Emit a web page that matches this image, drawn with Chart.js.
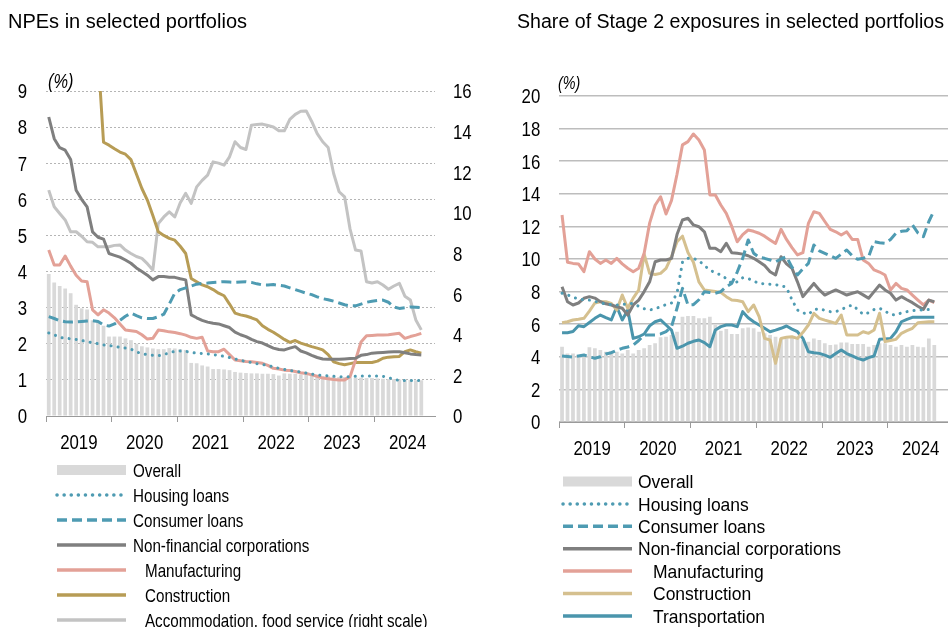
<!DOCTYPE html>
<html>
<head>
<meta charset="utf-8">
<script src="https://cdn.jsdelivr.net/npm/chart.js@4.4.1/dist/chart.umd.min.js"></script>
<style>
  body { margin: 0; background: #fff; }
  #wrap { position: relative; width: 948px; height: 627px; }
  canvas { position: absolute; top: 0; }
  #left { left: 0; }
  #right { left: 474px; }
</style>
</head>
<body>
<div id="wrap">
  <canvas id="left" width="474" height="627"></canvas>
  <canvas id="right" width="474" height="627"></canvas>
</div>
<script>
// years on the axis, monthly data from Jan 2019, axis runs to Nov 2024
const years = ['2019', '2020', '2021', '2022', '2023', '2024'];
const lastMonth = '2024-11';

// NPE ratios (%), Jan 2019 - Sep 2024
const npeOverall = [3.93,3.70,3.60,3.53,3.40,3.08,2.98,2.95,2.65,2.62,2.50,2.20,
  2.20,2.20,2.15,2.10,2.00,1.93,1.90,1.87,1.85,1.85,1.88,1.87,
  1.85,1.83,1.47,1.46,1.40,1.37,1.30,1.30,1.29,1.27,1.22,1.20,
  1.19,1.18,1.18,1.17,1.17,1.16,1.12,1.18,1.17,1.17,1.15,1.14,
  1.12,1.11,1.10,1.10,1.09,1.08,1.08,1.07,1.06,1.06,1.05,1.05,
  1.04,1.03,1.02,1.02,1.01,1.00,1.00,0.99,0.99];
const npeHousing = [2.30,2.25,2.18,2.15,2.14,2.12,2.09,2.06,2.03,2.00,1.97,1.95,
  1.93,1.90,1.88,1.85,1.78,1.72,1.70,1.68,1.67,1.70,1.75,1.79,
  1.80,1.79,1.76,1.74,1.73,1.72,1.70,1.68,1.65,1.62,1.58,1.54,
  1.51,1.48,1.45,1.43,1.40,1.36,1.32,1.29,1.26,1.24,1.22,1.19,
  1.16,1.14,1.12,1.11,1.10,1.09,1.09,1.09,1.10,1.11,1.11,1.11,
  1.11,1.10,1.06,1.02,0.98,0.98,0.98,0.98,0.98];
const npeConsumer = [2.75,2.70,2.64,2.61,2.60,2.61,2.62,2.63,2.64,2.62,2.52,2.49,
  2.55,2.65,2.76,2.85,2.78,2.72,2.70,2.70,2.75,2.82,3.10,3.40,
  3.50,3.55,3.60,3.65,3.67,3.68,3.70,3.71,3.72,3.71,3.70,3.71,
  3.72,3.70,3.66,3.63,3.63,3.64,3.62,3.60,3.55,3.50,3.45,3.40,
  3.36,3.30,3.25,3.22,3.18,3.13,3.08,3.05,3.05,3.10,3.15,3.18,
  3.20,3.21,3.15,3.02,2.98,3.00,3.02,3.01,3.00];
const npeNfc = [8.28,7.68,7.43,7.36,7.10,6.25,6.00,5.79,5.10,4.95,4.90,4.50,
  4.45,4.40,4.32,4.23,4.10,4.00,3.90,3.77,3.86,3.86,3.84,3.84,
  3.80,3.77,2.80,2.72,2.65,2.60,2.57,2.55,2.50,2.45,2.32,2.25,
  2.20,2.12,2.06,2.02,1.95,1.88,1.84,1.83,1.88,1.92,1.80,1.75,
  1.68,1.62,1.58,1.57,1.57,1.57,1.58,1.59,1.60,1.68,1.70,1.74,
  1.75,1.76,1.77,1.78,1.78,1.75,1.72,1.70,1.69];
const npeManufacturing = [4.60,4.18,4.18,4.43,4.15,3.90,3.74,3.72,2.94,2.80,2.94,2.85,
  2.72,2.55,2.38,2.36,2.34,2.25,2.13,2.15,2.38,2.36,2.33,2.31,
  2.28,2.24,2.18,2.15,2.18,1.80,1.78,1.78,1.85,1.70,1.55,1.53,
  1.51,1.50,1.48,1.46,1.40,1.32,1.30,1.27,1.26,1.23,1.20,1.18,
  1.14,1.10,1.05,1.03,1.01,1.00,1.00,1.09,1.55,2.05,2.22,2.23,
  2.24,2.24,2.25,2.27,2.29,2.15,2.20,2.24,2.29];
// construction is above the 9% top of the axis until late 2019
const npeConstruction = [null,null,null,null,null,null,null,null,null,10.0,7.58,7.50,
  7.40,7.31,7.25,7.10,6.70,6.30,5.98,5.55,5.10,5.00,4.92,4.87,
  4.70,4.50,3.81,3.72,3.63,3.58,3.50,3.40,3.33,3.10,2.85,2.80,
  2.77,2.72,2.66,2.50,2.40,2.32,2.22,2.12,2.04,2.09,2.02,1.97,
  1.92,1.88,1.83,1.70,1.50,1.45,1.42,1.45,1.48,1.48,1.48,1.48,
  1.52,1.60,1.63,1.64,1.65,1.78,1.83,1.78,1.74];
// right scale
const npeAccommodation = [11.12,10.30,9.97,9.65,9.07,9.07,8.85,8.58,8.55,8.33,8.33,8.33,
  8.40,8.42,8.17,8.00,7.85,7.76,7.50,7.19,9.48,9.80,10.05,9.80,
  10.50,10.96,10.47,11.28,11.60,11.86,12.51,12.45,12.35,12.76,13.50,13.22,
  13.12,14.32,14.35,14.37,14.30,14.23,14.04,14.04,14.60,14.85,15.00,15.02,
  14.50,13.90,13.50,13.22,11.94,11.04,10.79,9.20,8.17,8.12,6.61,6.55,
  6.61,6.45,6.24,6.40,6.53,5.90,5.71,4.73,4.24];

// Stage 2 shares (%)
const s2Overall = [4.62,4.21,4.21,4.11,4.15,4.58,4.52,4.42,4.31,4.35,4.31,4.21,
  4.42,4.21,4.42,4.52,4.72,4.83,5.20,5.23,5.34,5.54,6.46,6.50,
  6.50,6.36,6.36,6.46,5.95,5.60,5.70,5.40,5.40,5.75,5.80,5.75,
  5.54,5.44,5.34,5.23,5.13,5.13,5.20,5.20,5.03,4.93,5.13,5.03,
  4.83,4.72,4.75,4.87,4.87,4.79,4.79,4.79,4.62,4.72,4.83,4.83,
  4.72,4.62,4.72,4.62,4.72,4.62,4.58,5.13,4.72];
const s2Housing = [7.90,7.80,7.65,7.55,7.50,7.48,7.40,7.30,7.25,7.20,7.18,7.20,
  7.25,7.28,7.10,6.95,6.87,6.95,7.07,7.20,7.30,7.90,9.80,10.04,
  10.04,9.90,9.60,9.33,9.15,9.02,8.80,8.50,8.60,8.85,8.80,8.65,
  8.50,8.48,8.45,8.42,8.38,8.25,7.50,6.87,6.70,6.60,6.90,6.95,
  6.85,6.77,6.77,6.90,7.05,7.18,6.90,6.60,6.70,6.90,6.98,6.80,
  6.60,6.56,6.70,6.77,6.82,6.87,6.88,6.90,6.91];
const s2Consumer = [4.05,4.02,3.98,4.05,4.11,4.00,3.91,4.00,4.17,4.25,4.40,4.52,
  4.60,4.72,5.00,5.34,5.34,5.34,5.40,5.54,5.85,6.98,8.20,7.18,
  7.20,7.50,7.99,7.95,7.90,8.00,8.30,8.50,9.20,10.04,11.17,10.35,
  10.10,10.04,9.94,9.83,10.00,10.14,9.50,9.02,9.40,9.73,10.86,10.50,
  10.35,10.20,10.04,10.30,10.55,10.20,9.98,10.05,10.14,11.06,11.00,10.96,
  11.20,11.58,11.70,11.74,12.09,11.60,11.37,12.30,13.00];
const s2Nfc = [8.30,7.38,7.18,7.30,7.59,7.69,7.60,7.38,7.25,7.18,7.07,6.98,
  6.56,7.18,7.48,8.00,8.60,9.83,9.94,9.94,10.04,11.50,12.39,12.50,
  12.09,11.98,11.67,10.66,10.66,10.45,10.96,10.39,10.35,10.30,10.20,10.04,
  9.83,9.60,9.22,9.02,10.14,9.70,9.43,8.60,7.69,8.10,8.50,8.10,
  7.79,7.95,8.10,7.95,7.79,7.90,7.99,7.80,7.59,8.00,8.40,8.10,
  7.90,7.48,7.69,7.50,7.32,7.10,6.91,7.48,7.38];
const s2Manufacturing = [12.70,9.80,9.73,9.70,9.22,10.45,10.00,9.73,9.94,9.73,10.04,9.70,
  9.43,9.22,9.43,10.35,12.20,13.30,13.82,12.76,13.60,15.20,17.00,17.20,
  17.67,17.30,16.69,13.93,13.93,13.31,12.80,12.00,11.06,11.50,11.78,11.70,
  11.58,11.40,11.17,10.95,11.82,11.20,10.70,10.25,10.39,12.19,12.90,12.80,
  12.30,11.82,11.67,11.47,11.67,11.20,11.20,9.94,9.73,9.33,9.20,9.02,
  8.10,8.50,8.20,8.10,7.79,7.48,7.18,7.48,7.32];
const s2Construction = [6.09,6.15,6.26,6.30,6.36,6.80,7.30,7.38,7.38,7.28,6.87,7.79,
  6.98,7.60,8.10,10.30,9.12,9.05,9.12,9.43,10.14,11.06,11.40,10.40,
  9.80,8.60,8.10,8.05,8.00,7.95,7.69,7.48,7.45,7.38,6.77,7.18,
  6.46,5.13,5.03,3.60,5.13,5.20,5.23,5.13,5.50,5.95,6.67,6.36,
  6.25,6.15,6.05,6.56,5.34,5.34,5.34,5.54,5.44,5.64,6.67,4.93,
  5.00,5.07,5.44,5.60,5.75,6.09,6.12,6.15,6.15];
const s2Transportation = [5.48,5.48,5.55,5.90,5.85,6.10,6.36,6.56,6.40,6.26,7.07,6.26,
  6.87,5.13,5.23,5.40,5.90,6.15,6.26,5.95,5.64,4.52,4.65,4.83,
  4.95,5.03,4.87,4.62,5.64,5.85,5.95,5.95,5.85,6.77,6.40,6.15,
  5.95,5.75,5.54,5.64,5.75,5.89,5.70,5.54,5.13,4.31,4.25,4.21,
  4.10,3.97,4.20,4.42,4.20,4.05,3.90,3.80,3.95,4.05,5.07,5.10,
  5.13,5.54,6.15,6.30,6.42,6.42,6.42,6.42,6.42];

// monthly categories
const categories = [];
years.forEach(y => {
  for (let m = 1; m <= 12; m++) categories.push(y + '-' + String(m).padStart(2, '0'));
});
categories.length = categories.indexOf(lastMonth) + 1;

const SANS = '"Liberation Sans", Arial, sans-serif';
const TEAL = '#4e9bb2';
const AXIS = '#9a9a9a';
const NARROW_X = 0.82;   // the original uses a narrow face

Chart.defaults.font.family = SANS;
Chart.defaults.color = '#000';

// text squeezed horizontally to look like Arial Narrow
function squeezed(ctx, text, x, y, font, align, sx) {
  ctx.save();
  ctx.translate(x, y);
  ctx.scale(sx, 1);
  ctx.font = font;
  ctx.textAlign = align;
  ctx.textBaseline = 'alphabetic';
  ctx.fillText(text, 0, 0);
  ctx.restore();
}

// titles, (%), tick labels and the one-per-row legend under each panel
const panelDecor = {
  id: 'panelDecor',
  afterDraw(chart, args, o) {
    const ctx = chart.ctx;
    ctx.save();
    ctx.fillStyle = '#000';
    squeezed(ctx, o.title, o.titleX, o.titleY, o.titleFont, 'left', 1);
    squeezed(ctx, '(%)', o.unitX, o.unitY, o.unitFont, 'left', NARROW_X);

    // tick labels from the chart's own scales
    const tf = o.tickSize + 'px ' + SANS;
    const up = o.tickSize * 0.36;
    Object.values(chart.scales).forEach(sc => {
      if (sc.axis === 'x') {
        sc.ticks.forEach((t, i) => {
          if (i % 12 !== 6) return;
          const x = (sc.getPixelForTick(i - 1) + sc.getPixelForTick(i)) / 2;
          squeezed(ctx, categories[i].slice(0, 4), x, sc.top + 33, tf, 'center', NARROW_X);
        });
      } else {
        const pad = o.tickPad[sc.id];
        sc.ticks.forEach(t => {
          const y = sc.getPixelForValue(t.value) + up;
          if (sc.position === 'left') squeezed(ctx, String(t.value), sc.right - pad, y, tf, 'right', NARROW_X);
          else squeezed(ctx, String(t.value), sc.left + pad, y, tf, 'left', NARROW_X);
        });
      }
    });

    const L = o.legend;
    chart.data.datasets.forEach((ds, i) => {
      const y = L.y0 + i * L.step;
      if (ds.type === 'bar') {
        ctx.fillStyle = ds.backgroundColor;
        ctx.fillRect(L.x0, y - L.barH / 2, L.w, L.barH);
      } else {
        ctx.strokeStyle = ds.borderColor;
        ctx.lineWidth = L.lineW;
        ctx.lineCap = ds.borderCapStyle || 'butt';
        ctx.setLineDash(ds.borderDash || []);
        ctx.beginPath();
        ctx.moveTo(L.x0, y);
        ctx.lineTo(L.x0 + L.w, y);
        ctx.stroke();
        ctx.setLineDash([]);
      }
      ctx.fillStyle = '#000';
      squeezed(ctx, ds.label, ds.legendIndent ? L.indentX : L.textX, y + L.size * 0.36,
        L.size + 'px ' + SANS, 'left', L.sx);
    });
    ctx.restore();
  }
};

function lineSet(label, data, color, extra) {
  return Object.assign({
    type: 'line', label: label, data: data,
    borderColor: color, backgroundColor: color,
    borderWidth: 3, pointRadius: 0, tension: 0,
    borderJoinStyle: 'round', order: 2
  }, extra || {});
}

function xAxis() {
  return {
    type: 'category', offset: true,
    grid: {
      offset: true, drawOnChartArea: false, drawTicks: true, tickLength: 6,
      color: c => c.index % 12 === 0 ? AXIS : 'rgba(0,0,0,0)'
    },
    border: { display: true, color: AXIS, width: 1 },
    ticks: { display: false, autoSkip: false, maxRotation: 0 },
    afterFit: s => { s.height = 40; }
  };
}

const dotted = { borderDash: [0.1, 7], borderCapStyle: 'round' };
const dashed = { borderDash: [10, 5] };

new Chart(document.getElementById('left'), {
  type: 'bar',
  data: {
    labels: categories,
    datasets: [
      { type: 'bar', label: 'Overall', data: npeOverall, backgroundColor: '#d9d9d9',
        barPercentage: 0.68, categoryPercentage: 1, order: 10, yAxisID: 'y' },
      lineSet('Housing loans', npeHousing, TEAL, dotted),
      lineSet('Consumer loans', npeConsumer, TEAL, dashed),
      lineSet('Non-financial corporations', npeNfc, '#7f7f7f'),
      lineSet('Manufacturing', npeManufacturing, '#e3a197', { legendIndent: true }),
      lineSet('Construction', npeConstruction, '#b79c55', { legendIndent: true }),
      lineSet('Accommodation, food service (right scale)', npeAccommodation, '#c3c3c3',
        { legendIndent: true, yAxisID: 'y1', order: 3 })
    ]
  },
  options: {
    responsive: false, animation: false,
    layout: { padding: { top: 91, bottom: 171, left: 0, right: 0 } },
    plugins: {
      legend: { display: false }, tooltip: { enabled: false },
      panelDecor: {
        title: 'NPEs in selected portfolios', titleX: 8, titleY: 28, titleFont: '20px ' + SANS,
        unitFont: 'italic 20px ' + SANS, unitX: 48, unitY: 88,
        tickSize: 20.5, tickPad: { y: 19, y1: 18 },
        legend: { x0: 57, w: 69, textX: 133, indentX: 145, y0: 470, step: 25,
          barH: 10, lineW: 3.5, size: 18.5, sx: NARROW_X }
      }
    },
    scales: {
      x: xAxis(),
      y: {
        position: 'left', min: 0, max: 9,
        ticks: { display: false, stepSize: 1 },
        grid: { drawTicks: false, color: '#b5b5b5', lineWidth: 1 },
        border: { display: false, dash: [2, 2] },
        afterFit: s => { s.width = 46; }
      },
      y1: {
        position: 'right', min: 0, max: 16,
        ticks: { display: false, stepSize: 2 },
        grid: { drawOnChartArea: false, drawTicks: false },
        border: { display: false },
        afterFit: s => { s.width = 39; }
      }
    }
  },
  plugins: [panelDecor]
});

new Chart(document.getElementById('right'), {
  type: 'bar',
  data: {
    labels: categories,
    datasets: [
      { type: 'bar', label: 'Overall', data: s2Overall, backgroundColor: '#d9d9d9',
        barPercentage: 0.68, categoryPercentage: 1, order: 10 },
      lineSet('Housing loans', s2Housing, TEAL, dotted),
      lineSet('Consumer loans', s2Consumer, TEAL, dashed),
      lineSet('Non-financial corporations', s2Nfc, '#7f7f7f'),
      lineSet('Manufacturing', s2Manufacturing, '#e3a197', { legendIndent: true }),
      lineSet('Construction', s2Construction, '#d5c08f', { legendIndent: true }),
      lineSet('Transportation', s2Transportation, '#4a95ac', { legendIndent: true })
    ]
  },
  options: {
    responsive: false, animation: false,
    layout: { padding: { top: 96, bottom: 165, left: 0, right: 0 } },
    plugins: {
      legend: { display: false }, tooltip: { enabled: false },
      panelDecor: {
        title: 'Share of Stage 2 exposures in selected portfolios', titleX: 43, titleY: 28,
        titleFont: '19.6px ' + SANS,
        unitFont: 'italic 17.5px ' + SANS, unitX: 84, unitY: 89,
        tickSize: 20.5, tickPad: { y: 19 },
        legend: { x0: 89, w: 69, textX: 164, indentX: 179, y0: 481.5, step: 22.4,
          barH: 10, lineW: 3.5, size: 18.5, sx: 0.945 }
      }
    },
    scales: {
      x: xAxis(),
      y: {
        min: 0, max: 20,
        ticks: { display: false, stepSize: 2 },
        grid: { drawTicks: false, color: '#bdbdbd', lineWidth: 1.5 },
        border: { display: false },
        afterFit: s => { s.width = 85.3; }
      }
    }
  },
  plugins: [panelDecor]
});
</script>
</body>
</html>
